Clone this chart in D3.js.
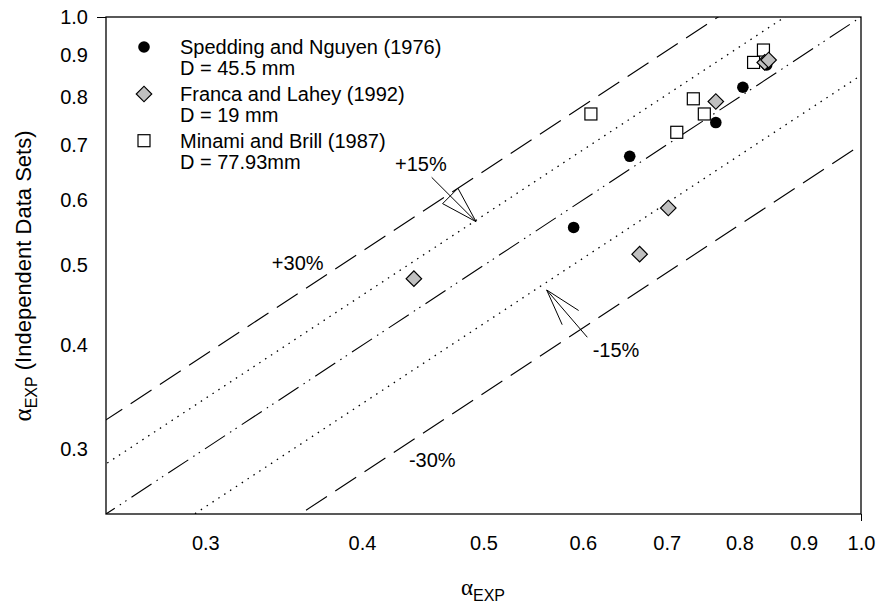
<!DOCTYPE html>
<html>
<head>
<meta charset="utf-8">
<script src="https://cdn.jsdelivr.net/npm/d3@7"></script>
<style>
body { margin: 0; background: #fff; }
svg { display: block; font-family: "Liberation Sans", Arial, sans-serif; }
</style>
</head>
<body>
<svg id="chart" width="877" height="606"></svg>
<script>
// values
var speddingX = [0.590, 0.654, 0.766, 0.805, 0.841];
var speddingY = [0.556, 0.678, 0.745, 0.822, 0.875];
var francaX = [0.440, 0.666, 0.702, 0.766, 0.838, 0.844];
var francaY = [0.482, 0.516, 0.587, 0.790, 0.881, 0.887];
var minamiX = [0.609, 0.713, 0.735, 0.750, 0.821, 0.836];
var minamiY = [0.763, 0.725, 0.796, 0.763, 0.881, 0.912];
var tickValues = [0.3, 0.4, 0.5, 0.6, 0.7, 0.8, 0.9, 1.0];
var bandFactors = [1.3, 1.15, 1.0, 0.85, 0.7];
var bandStyles = ['dash', 'dot', 'dashdot', 'dot', 'dash'];
var legendNames = ['Spedding and Nguyen (1976)', 'Franca and Lahey (1992)', 'Minami and Brill (1987)'];
var legendDiam = ['D = 45.5 mm', 'D = 19 mm', 'D = 77.93mm'];
// annotations in data units (label start, arrow tail and tip)
var bandLabels = [
	{ text: '+30%', x: 0.339, y: 0.494 },
	{ text: '+15%', x: 0.425, y: 0.651, tail: [0.4546, 0.6394], tip: [0.4932, 0.5650], closed: true },
	{ text: '-15%', x: 0.611, y: 0.387, tail: [0.605, 0.4093], tip: [0.5615, 0.467], closed: false },
	{ text: '-30%', x: 0.436, y: 0.285 }
];

var svg = d3.select('#chart');
var x = d3.scaleLog().domain([0.25, 1]).range([106, 861]);
var y = d3.scaleLog().domain([0.25, 1]).range([514, 17]);

var dashes = { dash: '25,10', dot: '1.5,5.5', dashdot: '24,6,1.5,5,1.5,6' };

svg.append('clipPath').attr('id', 'plot-clip')
	.append('rect').attr('x', 106).attr('y', 17).attr('width', 755).attr('height', 497);

// ratio lines
var line = d3.line().x(function (d) { return x(d[0]); }).y(function (d) { return y(d[1]); });
svg.append('g').attr('clip-path', 'url(#plot-clip)')
	.selectAll('path').data(bandFactors).enter().append('path')
	.attr('d', function (f) { return line([[0.2, 0.2 * f], [1.1, 1.1 * f]]); })
	.attr('fill', 'none').attr('stroke', '#000')
	.attr('stroke-width', function (f, i) { return bandStyles[i] == 'dot' ? 1.3 : 1.1; })
	.attr('stroke-dasharray', function (f, i) { return dashes[bandStyles[i]]; });

// axes
var xAxis = d3.axisBottom(x).tickValues(tickValues).tickFormat(d3.format('.1f')).tickSize(0).tickPadding(22);
var yAxis = d3.axisLeft(y).tickValues(tickValues).tickFormat(d3.format('.1f')).tickSize(0).tickPadding(18);
var gx = svg.append('g').attr('transform', 'translate(0,514)').call(xAxis);
var gy = svg.append('g').attr('transform', 'translate(106,0)').call(yAxis);
[gx, gy].forEach(function (g) {
	g.select('.domain').remove();
	g.selectAll('text').attr('font-size', 20).attr('font-family', '"Liberation Sans", Arial, sans-serif').attr('fill', '#000');
});
// only the decade tick is drawn
gx.selectAll('.tick').filter(function (d) { return d === 1; }).select('line').attr('y2', 7).attr('stroke', '#000');
gy.selectAll('.tick').filter(function (d) { return d === 1; }).select('line').attr('x2', -9).attr('stroke', '#000');

svg.append('rect').attr('x', 106).attr('y', 17).attr('width', 755).attr('height', 497)
	.attr('fill', 'none').attr('stroke', '#000').attr('stroke-width', 1.3);

// annotations
var ann = svg.append('g').attr('stroke', '#000').attr('stroke-width', 1).attr('fill', 'none');
bandLabels.forEach(function (b) {
	svg.append('text').attr('x', x(b.x)).attr('y', y(b.y)).attr('font-size', 20).text(b.text);
	if (!b.tip) { return; }
	var tx = x(b.tip[0]), ty = y(b.tip[1]);
	var sx = x(b.tail[0]), sy = y(b.tail[1]);
	ann.append('line').attr('x1', sx).attr('y1', sy).attr('x2', tx).attr('y2', ty);
	var ang = Math.atan2(sy - ty, sx - tx);
	var len = 38, spread = 0.29;
	var p1 = [tx + len * Math.cos(ang + spread), ty + len * Math.sin(ang + spread)];
	var p2 = [tx + len * Math.cos(ang - spread), ty + len * Math.sin(ang - spread)];
	var pts = [p1, [tx, ty], p2];
	if (b.closed) { pts.push(p1); }
	ann.append('path').attr('d', d3.line()(pts));
});

// data points
var gp = svg.append('g');
gp.selectAll('circle').data(d3.zip(speddingX, speddingY)).enter().append('circle')
	.attr('cx', function (d) { return x(d[0]); }).attr('cy', function (d) { return y(d[1]); })
	.attr('r', 5.8).attr('fill', '#000');
gp.selectAll('rect.sq').data(d3.zip(minamiX, minamiY)).enter().append('rect').attr('class', 'sq')
	.attr('x', function (d) { return x(d[0]) - 6; }).attr('y', function (d) { return y(d[1]) - 6; })
	.attr('width', 12).attr('height', 12).attr('fill', '#fff').attr('stroke', '#000').attr('stroke-width', 1.2);
var diamond = d3.symbol().type(d3.symbolSquare).size(120);
gp.selectAll('path.dm').data(d3.zip(francaX, francaY)).enter().append('path').attr('class', 'dm')
	.attr('d', diamond)
	.attr('transform', function (d) { return 'translate(' + x(d[0]) + ',' + y(d[1]) + ') rotate(45)'; })
	.attr('fill', '#c0c0c0').attr('stroke', '#000').attr('stroke-width', 1.2);

// legend
var lg = svg.append('g');
var rowY = [47, 94, 140.7];
lg.append('circle').attr('cx', 144).attr('cy', rowY[0]).attr('r', 5.8).attr('fill', '#000');
lg.append('path').attr('d', diamond).attr('transform', 'translate(144,' + rowY[1] + ') rotate(45)')
	.attr('fill', '#c0c0c0').attr('stroke', '#000').attr('stroke-width', 1.2);
lg.append('rect').attr('x', 138).attr('y', rowY[2] - 6).attr('width', 12).attr('height', 12)
	.attr('fill', '#fff').attr('stroke', '#000').attr('stroke-width', 1.2);
legendNames.forEach(function (n, i) {
	lg.append('text').attr('x', 180).attr('y', rowY[i] + 7).attr('font-size', 20).text(n);
	lg.append('text').attr('x', 180).attr('y', rowY[i] + 28).attr('font-size', 20).text(legendDiam[i]);
});

// axis titles
var xt = svg.append('text').attr('x', 483).attr('y', 595).attr('text-anchor', 'middle');
xt.append('tspan').attr('font-family', '"Liberation Serif", serif').attr('font-size', 23).text('\u03b1');
xt.append('tspan').attr('font-size', 16).attr('dy', 6).text('EXP');

var yt = svg.append('text').attr('transform', 'translate(31,276) rotate(-90)').attr('text-anchor', 'middle');
yt.append('tspan').attr('font-family', '"Liberation Serif", serif').attr('font-size', 25).text('\u03b1');
yt.append('tspan').attr('font-size', 16).attr('dy', 6).text('EXP');
yt.append('tspan').attr('font-size', 22).attr('dy', -6).text(' (Independent Data Sets)');
</script>
</body>
</html>
